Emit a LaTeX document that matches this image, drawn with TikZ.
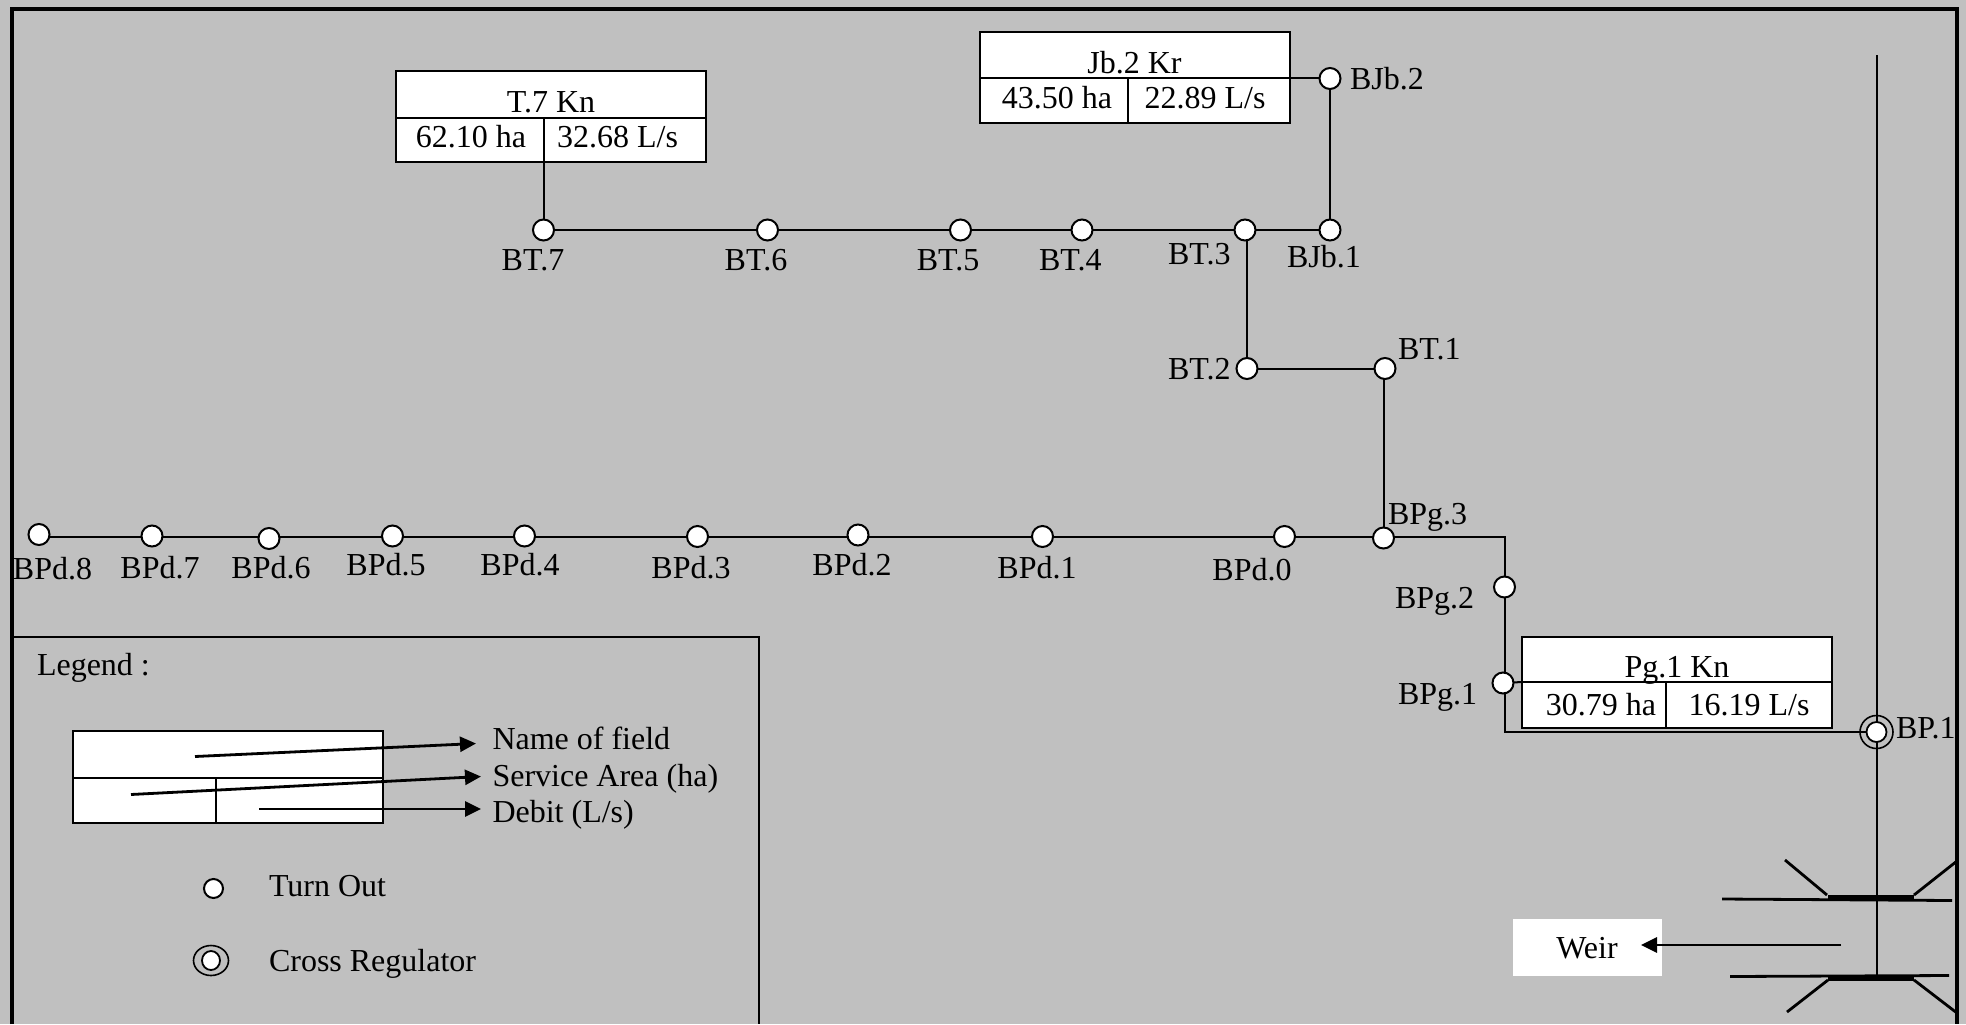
\documentclass[tikz,border=0pt]{standalone}
\usepackage{fontspec}
\setmainfont{Liberation Serif}
\usetikzlibrary{arrows.meta,backgrounds,shapes.geometric}
\definecolor{panel}{HTML}{C0C0C0}
\tikzset{
  x=0.5pt,y=-0.5pt,
  turnout/.style={circle,draw=black,fill=white,line width=1pt,minimum size=10.5pt,inner sep=0pt,outer sep=0pt},
  inner ring/.style={circle,draw=black,fill=white,line width=0.9pt,minimum size=10pt,inner sep=0pt,outer sep=0pt},
  outer ring/.style={circle,draw=black,line width=0.8pt,minimum size=16.5pt,inner sep=0pt,outer sep=0pt},
  legend inner/.style={ellipse,draw=black,fill=white,line width=0.9pt,minimum width=9pt,minimum height=9.5pt,inner sep=0pt,outer sep=0pt},
  legend outer/.style={ellipse,draw=black,line width=0.8pt,minimum width=17.5pt,minimum height=15pt,inner sep=0pt,outer sep=0pt},
  cell/.style={rectangle,draw=black,fill=white,line width=1pt,inner sep=0pt,outer sep=0pt,anchor=north west},
  txt/.style={font=\fontsize{16pt}{18pt}\selectfont,inner sep=0pt,outer sep=0pt,text=black,yshift=-0.5pt},
  lab/.style={txt,anchor=base},
  labw/.style={txt,anchor=base west},
  canal/.style={line width=1pt,draw=black},
  frameline/.style={line width=2pt,draw=black},
  thinframe/.style={line width=1pt,draw=black},
  legendarrow/.style={line width=1.4pt,draw=black,-{Triangle[length=8pt,width=7.5pt]}},
  weirline/.style={line width=1.4pt,draw=black},
  weirthick/.style={line width=2.8pt,draw=black},
}
% prefix, x1, y1, x2, ysplit, y2, xsplit
\newcommand{\fieldbox}[7]{%
  \node[cell,minimum width={(#4-#2)*0.5pt},minimum height={(#5-#3)*0.5pt}] (#1t) at (#2,#3) {};
  \node[cell,minimum width={(#7-#2)*0.5pt},minimum height={(#6-#5)*0.5pt}] (#1l) at (#2,#5) {};
  \node[cell,minimum width={(#4-#7)*0.5pt},minimum height={(#6-#5)*0.5pt}] (#1r) at (#7,#5) {};
}
\begin{document}
\begin{tikzpicture}
\useasboundingbox (0,0) rectangle (1966,1024);

% field boxes
\fieldbox{tk}{396}{71}{706}{118}{162}{544}
\node[lab] (tktxt) at (551,111) {T.7 Kn};
\node[lab] (tkha) at (471,146) {62.10 ha};
\node[lab] (tkls) at (617.5,146) {32.68 L/s};

\fieldbox{jb}{980}{32}{1290}{78}{123}{1128}
\node[lab] (jbtxt) at (1134.5,72) {Jb.2 Kr};
\node[lab] (jbha) at (1057,107) {43.50 ha};
\node[lab] (jbls) at (1205,107) {22.89 L/s};

\fieldbox{pg}{1522}{637}{1832}{682}{728}{1666}
\node[lab] (pgtxt) at (1677,676) {Pg.1 Kn};
\node[lab] (pgha) at (1601,714) {30.79 ha};
\node[lab] (pgls) at (1749,714) {16.19 L/s};

% turn outs
\node[turnout] (BJb2) at (1330,78.5) {};
\node[turnout] (BJb1) at (1330,230) {};
\node[turnout] (BT3) at (1245,230) {};
\node[turnout] (BT4) at (1082,230) {};
\node[turnout] (BT5) at (960.5,230) {};
\node[turnout] (BT6) at (767.5,230) {};
\node[turnout] (BT7) at (543.5,230) {};
\node[turnout] (BT2) at (1247,368.5) {};
\node[turnout] (BT1) at (1385,368.5) {};
\node[turnout] (BPg3) at (1383.5,538) {};
\node[turnout] (BPg2) at (1504.5,587) {};
\node[turnout] (BPg1) at (1503,683) {};
\node[turnout] (BPd0) at (1284.5,536.5) {};
\node[turnout] (BPd1) at (1042.5,536.5) {};
\node[turnout] (BPd2) at (858,535) {};
\node[turnout] (BPd3) at (697.5,536.5) {};
\node[turnout] (BPd4) at (524.5,536) {};
\node[turnout] (BPd5) at (392.5,536) {};
\node[turnout] (BPd6) at (269,538.5) {};
\node[turnout] (BPd7) at (152,536) {};
\node[turnout] (BPd8) at (39,534.5) {};
\node[outer ring] (BP1o) at (1876.5,732) {};
\node[inner ring] (BP1) at (1876.5,732) {};

% labels
\node[labw] (lBJb2) at (1350,88) {BJb.2};
\node[labw] (lBJb1) at (1287,266) {BJb.1};
\node[labw] (lBT3) at (1168,263.5) {BT.3};
\node[labw] (lBT4) at (1039,269.5) {BT.4};
\node[lab] (lBT5) at (948,269.5) {BT.5};
\node[lab] (lBT6) at (756,269.5) {BT.6};
\node[lab] (lBT7) at (533,269.5) {BT.7};
\node[labw] (lBT2) at (1168,378) {BT.2};
\node[labw] (lBT1) at (1398,358.5) {BT.1};
\node[labw] (lBPg3) at (1388,523) {BPg.3};
\node[labw] (lBPg2) at (1395,607.5) {BPg.2};
\node[labw] (lBPg1) at (1398,703.5) {BPg.1};
\node[labw] (lBP1) at (1896,737.5) {BP.1};
\node[lab] (lBPd0) at (1252,579.5) {BPd.0};
\node[lab] (lBPd1) at (1037,577.5) {BPd.1};
\node[lab] (lBPd2) at (852,574.5) {BPd.2};
\node[lab] (lBPd3) at (691,577.5) {BPd.3};
\node[lab] (lBPd4) at (520,574.5) {BPd.4};
\node[lab] (lBPd5) at (386,574.5) {BPd.5};
\node[lab] (lBPd6) at (271,577.5) {BPd.6};
\node[lab] (lBPd7) at (160,577.5) {BPd.7};
\node[lab] (lBPd8) at (52.5,578.5) {BPd.8};

% weir
\node[rectangle,fill=white,minimum width=74.5pt,minimum height=28.5pt,inner sep=0pt,outer sep=0pt] (weirbox) at (1587.5,947.5) {};
\node[lab] (weirtxt) at (1587,957) {Weir};
\coordinate (weirfrom) at (1841,945);
\coordinate (weirto) at (1641,945);
\draw[legendarrow] (weirfrom) -- (weirto);

% canals, under the circles
\coordinate (maintop) at (1876.5,55);
\coordinate (mainbottom) at (1876.5,977);
\coordinate (bend1) at (1505,537);
\coordinate (bend2) at (1505,732);
\begin{scope}[on background layer]
  \fill[panel] (0,0) rectangle (1966,1024);
  \draw[canal] (maintop) -- (mainbottom);
  \draw[canal] (BPg3.center |- bend1) -- (bend1) -- (bend2) -- (BP1.center);
  \draw[canal] (BPg1.center) -- (pgt.south west);
  \draw[canal] (BPd8.center |- bend1) -- (BPg3.center |- bend1);
  \draw[canal] (BPg3.center) -- (BPg3.center |- BT1.center);
  \draw[canal] (BT1.center) -- (BT2.center);
  \draw[canal] (BT2.center) -- (BT3.center -| BT2.center);
  \draw[canal] (BT7.center) -- (BJb1.center);
  \draw[canal] (BJb1.center) -- (BJb2.center);
  \draw[canal] (jbt.south east) -- (BJb2.center |- jbt.south east);
  \draw[canal] (tkl.south east) -- (BT7.center -| tkl.south east);
\end{scope}

% weir walls
\coordinate (w1a) at (1722,899); \coordinate (w1b) at (1952,900.5);
\coordinate (w2a) at (1730,976.5); \coordinate (w2b) at (1949,975.5);
\draw[weirline] (w1a) -- (w1b);
\draw[weirline] (w2a) -- (w2b);
\draw[weirthick] (1828,898) -- (1914,898);
\draw[weirthick] (1828,978.5) -- (1914,978.5);
\draw[weirline] (1785,860) -- (1827,895);
\draw[weirline] (1914,895) -- (1957,861);
\draw[weirline] (1828,980) -- (1787,1012);
\draw[weirline] (1914,980) -- (1957,1013);

% legend
\draw[thinframe] (12,637) -- (759,637) -- (759,1024);
\node[labw] (legtitle) at (37,674.5) {Legend :};
\fieldbox{lg}{73}{731}{383}{778}{822.5}{216}
\coordinate (a1) at (195,756.5); \coordinate (b1) at (476,743.5);
\coordinate (a2) at (131,794.5); \coordinate (b2) at (481,776.5);
\coordinate (a3) at (259,809); \coordinate (b3) at (481,809);
\draw[legendarrow] (a1) -- (b1);
\draw[legendarrow] (a2) -- (b2);
\draw[legendarrow] (a3) -- (b3);
\node[labw] (lname) at (492.5,748.5) {Name of field};
\node[labw] (lserv) at (492.5,785.5) {Service Area (ha)};
\node[labw] (ldeb) at (492.5,821.5) {Debit (L/s)};
\node[turnout,minimum size=9.5pt] (legturn) at (213.5,888.5) {};
\node[labw] (lturn) at (269,895.5) {Turn Out};
\node[legend outer] (legcro) at (211,960.5) {};
\node[legend inner] (legcri) at (211,960.5) {};
\node[labw] (lcross) at (269,970.5) {Cross Regulator};

% outer frame
\draw[frameline] (12,1024) -- (12,9) -- (1957,9) -- (1957,1024);
\end{tikzpicture}
\end{document}
